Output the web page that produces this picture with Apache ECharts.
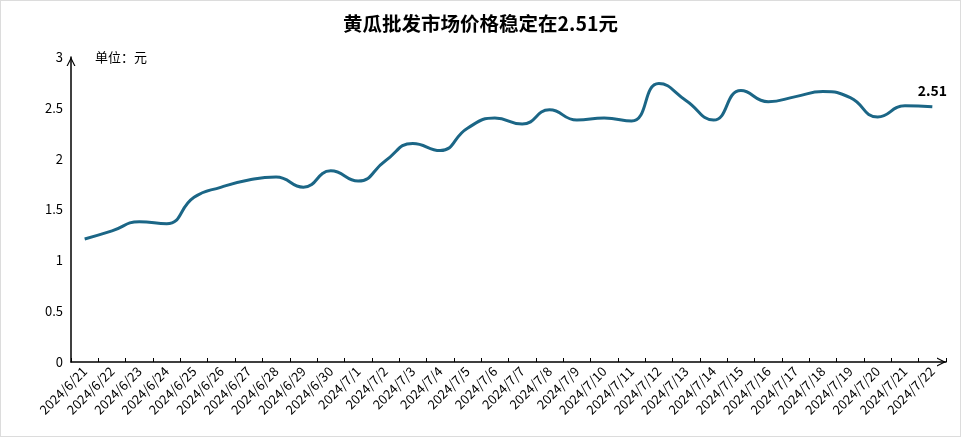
<!DOCTYPE html>
<html>
<head>
<meta charset="utf-8">
<script src="https://cdn.jsdelivr.net/npm/echarts@6/dist/echarts.min.js"></script>
<style>
html,body{margin:0;padding:0;background:#fff;}
#c{width:961px;height:437px;box-sizing:border-box;border:1px solid #dcdcdc;}
</style>
</head>
<body>
<div id="c"></div>
<script>
const categories = ['2024/6/21','2024/6/22','2024/6/23','2024/6/24','2024/6/25','2024/6/26','2024/6/27','2024/6/28','2024/6/29','2024/6/30','2024/7/1','2024/7/2','2024/7/3','2024/7/4','2024/7/5','2024/7/6','2024/7/7','2024/7/8','2024/7/9','2024/7/10','2024/7/11','2024/7/12','2024/7/13','2024/7/14','2024/7/15','2024/7/16','2024/7/17','2024/7/18','2024/7/19','2024/7/20','2024/7/21','2024/7/22'];
const prices = [1.21,1.29,1.38,1.36,1.62,1.72,1.79,1.82,1.72,1.88,1.78,1.98,2.15,2.08,2.30,2.40,2.34,2.48,2.38,2.40,2.37,2.74,2.57,2.38,2.67,2.56,2.61,2.66,2.60,2.41,2.52,2.51];
const yTicks = {min:0, max:3, interval:0.5};
const titleText = '黄瓜批发市场价格稳定在2.51元';
const unitText = '单位：元';

const chart = echarts.init(document.getElementById('c'));
const font = '"Noto Sans CJK SC", "Microsoft YaHei", sans-serif';
const chevron = 'path://M0,10 L5,0 L10,10 L8.6,10 L5,2.8 L1.4,10 Z';
const lastIdx = prices.length - 1;
chart.setOption({
  textStyle:{fontFamily:font},
  title:{text:titleText,left:'center',top:8,textStyle:{fontSize:19.5,fontWeight:'bold',color:'#000',fontFamily:font}},
  grid:{left:70,right:14,top:56,bottom:74},
  xAxis:{
    type:'category',data:categories,boundaryGap:true,
    axisLine:{lineStyle:{color:'#000',width:1.5},symbol:['none',chevron],symbolSize:[10,9],symbolOffset:[0,-4.5]},
    axisTick:{show:true,alignWithLabel:false,lineStyle:{color:'#000'},length:4,inside:true},
    axisLabel:{rotate:45,color:'#000',fontSize:13,margin:7,interval:0,fontFamily:font}
  },
  yAxis:{
    type:'value',min:yTicks.min,max:yTicks.max,interval:yTicks.interval,
    name:unitText,nameLocation:'end',nameGap:0,
    nameTextStyle:{color:'#000',fontSize:13,align:'left',verticalAlign:'middle',padding:[0,0,0,24],fontFamily:font},
    axisLine:{show:true,lineStyle:{color:'#000',width:1.5},symbol:['none',chevron],symbolSize:[10,9],symbolOffset:[0,-4.5]},
    axisTick:{show:false},
    splitLine:{show:false},
    axisLabel:{color:'#000',fontSize:13,margin:8,fontFamily:font}
  },
  series:[{
    type:'line',data:prices.map((v,i)=>i===lastIdx?{value:v,label:{show:true}}:v),
    smooth:true,symbol:'circle',symbolSize:0,showSymbol:true,
    lineStyle:{color:'#1b6686',width:3},
    itemStyle:{color:'#1b6686'},
    label:{show:false,position:'top',distance:9,color:'#000',fontWeight:'bold',fontSize:14,fontFamily:font}
  }]
});
</script>
</body>
</html>
